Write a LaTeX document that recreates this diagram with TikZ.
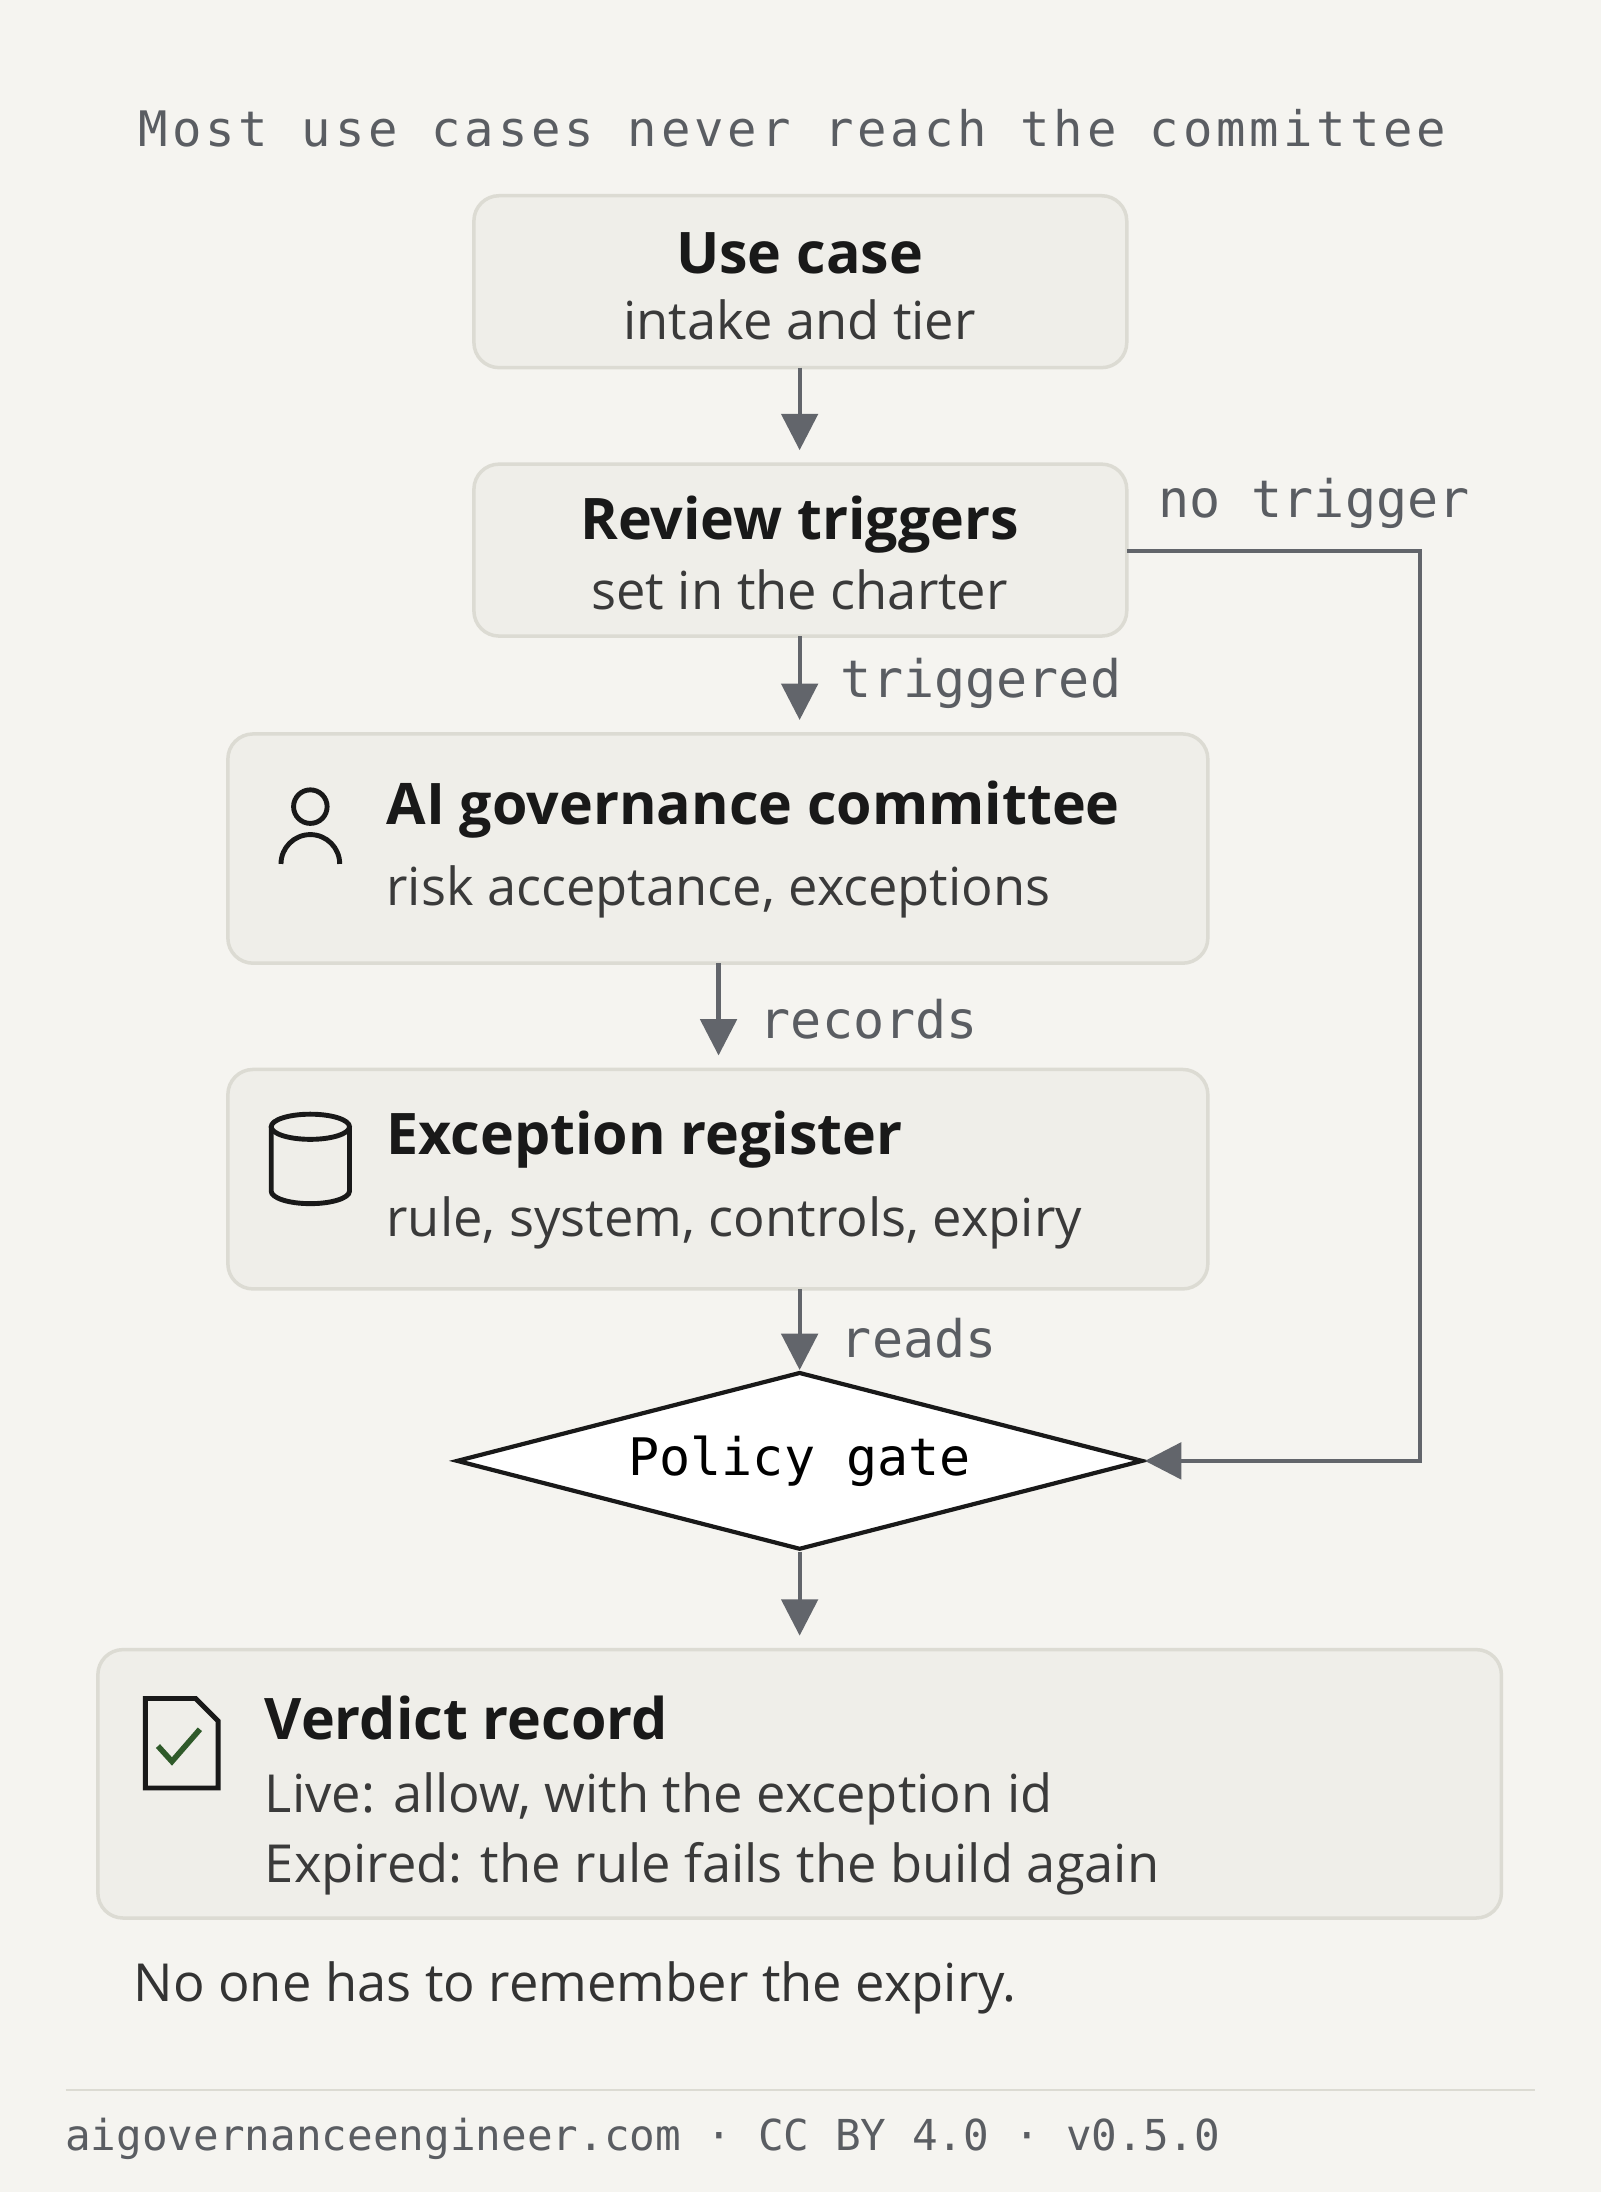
\documentclass[tikz,border=0pt]{standalone}
\usepackage{fontspec}
\setmainfont{Open Sans}
\newfontfamily\monoA{DejaVu Sans Mono}[LetterSpace=8]
\newfontfamily\monoB{DejaVu Sans Mono}
\usetikzlibrary{arrows.meta,shapes.geometric}
\definecolor{bg}{HTML}{F5F4F0}
\definecolor{boxf}{HTML}{EFEEE9}
\definecolor{boxd}{HTML}{DCDBD3}
\definecolor{arr}{HTML}{62656B}
\definecolor{txt}{HTML}{3A3A3A}
\definecolor{lab}{HTML}{5A5D62}
\definecolor{chk}{HTML}{2F5A2A}
\begin{document}
\begin{tikzpicture}[x=1pt,y=-1pt,
 box/.style={draw=boxd,line width=2.5pt,fill=boxf,rounded corners=18pt},
 ar/.style={draw=arr,line width=3pt,-{Triangle[length=26pt,width=26pt]}},
 ttl/.style={font=\fontsize{41}{46}\selectfont\bfseries,text=black!90},
 sub/.style={font=\fontsize{37.5}{42}\selectfont,text=txt},
 lbl/.style={font=\monoB\fontsize{37}{40}\selectfont,text=lab,anchor=west},
 icon/.style={draw=black!90,line width=3.5pt}]
\fill[bg] (0,0) rectangle (1145,1568);
\useasboundingbox (0,0) rectangle (1145,1568);
\node[font=\monoA\fontsize{35}{40}\selectfont,text=lab] (title) at (567,92) {Most use cases never reach the committee};
% boxes
\draw[box] (339,140) rectangle (806,263);
\node[ttl] (uc) at (572,181) {Use case};
\node[sub] (ucs) at (572,229) {intake and tier};
\coordinate (ucb) at (572,263);
\draw[box] (339,332) rectangle (806,455);
\coordinate (rtt) at (572,322);
\node[ttl] (rt) at (572,375) {Review triggers};
\node[sub] (rts) at (572,422) {set in the charter};
\coordinate (rtb) at (572,455);
\coordinate (rtr) at (806,394);
\draw[box] (163,525) rectangle (864,689);
\coordinate (cmt) at (572,515);
\node[ttl,anchor=west] (cm) at (273,579) {AI governance committee};
\node[sub,anchor=west] (cms) at (273,638) {risk acceptance, exceptions};
\coordinate (cmb) at (514,689);
\draw[box] (163,765) rectangle (864,922);
\coordinate (ert) at (514,755);
\node[ttl,anchor=west] (er) at (273,815) {Exception register};
\node[sub,anchor=west] (ers) at (273,875) {rule, system, controls, expiry};
\coordinate (erb) at (572,922);
\node[diamond,aspect=3.87,draw=black!90,line width=3pt,fill=white,minimum width=491pt,minimum height=127pt,inner sep=0pt,font=\monoB\fontsize{37}{40}\selectfont] (pg) at (572,1045) {Policy gate};
\draw[box] (70,1180) rectangle (1074,1372);
\coordinate (vrt) at (572,1170);
\node[ttl,anchor=west] (vr) at (186,1229) {Verdict record};
\node[sub,anchor=west] (vr1) at (186,1287) {Live: allow, with the exception id};
\node[sub,anchor=west] (vr2) at (186,1337) {Expired: the rule fails the build again};
\node[sub,anchor=west,text=black!80] (note) at (92,1422) {No one has to remember the expiry.};
% arrows
\draw[ar] (ucb) -- (rtt);
\draw[ar] (rtb) -- (cmt);
\node[lbl] (l1) at (598,489) {triggered};
\draw[ar] (cmb) -- (ert);
\node[lbl] (l2) at (540,729) {records};
\draw[ar] (erb) -- (pg.north);
\node[lbl] (l3) at (598,957) {reads};
\draw[ar] (pg.south) -- (vrt);
\coordinate (c1) at (1016,394);
\coordinate (c2) at (1016,1045);
\draw[ar] (rtr) -- (c1) -- (c2) -- (pg.east);
\node[lbl] (l4) at (825,360) {no trigger};
% icons
\draw[icon] (222,577) circle (12);
\draw[icon] (201,618) arc (180:360:21);
\draw[icon] (222,806) ellipse (28 and 9);
\draw[icon] (194,806) -- (194,852) arc (180:0:28 and 9) -- (250,806);
\draw[icon] (104,1215) -- (140,1215) -- (156,1231) -- (156,1279) -- (104,1279) -- cycle;
\draw[chk,line width=4pt] (113,1249) -- (123,1260) -- (143,1237);
% footer
\draw[boxd,line width=2pt] (47,1495) -- (1098,1495);
\node[font=\monoB\fontsize{30.5}{34}\selectfont,text=lab,anchor=west] (ft) at (43,1530) {aigovernanceengineer.com · CC BY 4.0 · v0.5.0};
\end{tikzpicture}
\end{document}
